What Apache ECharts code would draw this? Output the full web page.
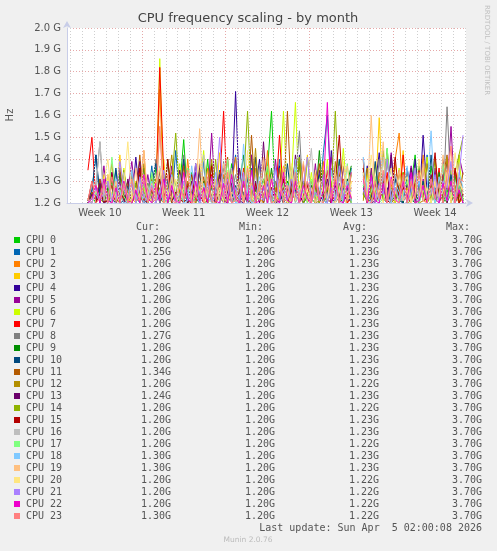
<!DOCTYPE html>
<html><head><meta charset="utf-8">
<script src="https://cdn.jsdelivr.net/npm/echarts@6/dist/echarts.min.js"></script>
<style>html,body{margin:0;padding:0;background:#f0f0f0}#c{width:497px;height:551px}</style>
</head><body><div id="c"></div>
<script>
const cpuNames = ['CPU 0','CPU 1','CPU 2','CPU 3','CPU 4','CPU 5','CPU 6','CPU 7','CPU 8','CPU 9','CPU 10','CPU 11','CPU 12','CPU 13','CPU 14','CPU 15','CPU 16','CPU 17','CPU 18','CPU 19','CPU 20','CPU 21','CPU 22','CPU 23'];
const cpuColors = ['#00cc00','#0066b3','#ff8000','#ffcc00','#330099','#990099','#ccff00','#ff0000','#808080','#008f00','#00487d','#b35a00','#b38f00','#6b006b','#8fb300','#b30000','#bebebe','#80ff80','#80c9ff','#ffc080','#ffe680','#aa80ff','#ee00cc','#ff8080'];
const weekLabels = ['Week 10','Week 11','Week 12','Week 13','Week 14'];
const weekLabelPos = [3.5,10.5,17.5,24.5,31.5];   // days since Mon Mar 2 00:00
const weekStarts = [7,14,21,28];
const xMin = 0.75, xMax = 34.083;                 // Mar 2 18:00 .. Apr 5 02:00
const sampleStart = 2.5, sampleStep = 1/3;        // 8-hour samples
const legendHeader = ['Cur:','Min:','Avg:','Max:'];
const curVals = ['1.20G','1.25G','1.20G','1.20G','1.20G','1.20G','1.20G','1.20G','1.27G','1.20G','1.20G','1.34G','1.20G','1.24G','1.20G','1.20G','1.20G','1.20G','1.30G','1.30G','1.20G','1.20G','1.20G','1.30G'];
const minVals = ['1.20G','1.20G','1.20G','1.20G','1.20G','1.20G','1.20G','1.20G','1.20G','1.20G','1.20G','1.20G','1.20G','1.20G','1.20G','1.20G','1.20G','1.20G','1.20G','1.20G','1.20G','1.20G','1.20G','1.20G'];
const avgVals = ['1.23G','1.23G','1.23G','1.23G','1.23G','1.22G','1.23G','1.23G','1.23G','1.23G','1.23G','1.23G','1.22G','1.23G','1.22G','1.23G','1.23G','1.22G','1.23G','1.23G','1.22G','1.22G','1.22G','1.22G'];
const maxVals = ['3.70G','3.70G','3.70G','3.70G','3.70G','3.70G','3.70G','3.70G','3.70G','3.70G','3.70G','3.70G','3.70G','3.70G','3.70G','3.70G','3.70G','3.70G','3.70G','3.70G','3.70G','3.70G','3.70G','3.70G'];

const cpu0 = [1.20,1.23,1.20,1.28,1.21,1.20,1.30,1.22,1.20,1.26, 1.21,1.33,1.20,1.24,1.20,1.29,1.22,1.36,1.20,1.25, 1.21,1.31,1.20,1.27,1.49,1.21,1.34,1.20,1.28,1.22, 1.40,1.20,1.26,1.21,1.32,1.20,1.38,1.23,1.20,1.29, 1.21,1.42,1.20,1.27,1.22,1.35,1.62,1.21,1.30,1.20, 1.25,1.37,1.20,1.28,1.21,1.41,1.22,1.20,1.33,1.24, 1.20,1.30,1.21,1.39,1.20,1.26,1.22,null,null,1.28, 1.21,1.36,1.20,1.31,1.22,1.45,1.20,1.27,1.21,1.34, 1.20,1.29,1.42,1.21,1.25,1.20,1.37,1.22,1.30,1.20, 1.26,1.21,1.33,1.20,1.24];
const cpu1 = [1.21,1.25,1.42,1.20,1.30,1.22,1.20,1.35,1.21,1.27, 1.20,1.32,1.23,1.20,1.28,1.21,1.37,1.20,1.25,1.22, 1.30,1.20,1.44,1.21,1.26,1.20,1.33,1.22,1.20,1.39, 1.21,1.27,1.20,1.35,1.22,1.20,1.30,1.42,1.21,1.24, 1.20,1.36,1.21,1.28,1.20,1.33,1.22,1.20,1.40,1.23, 1.20,1.29,1.21,1.38,1.20,1.25,1.22,1.34,1.20,1.43, 1.60,1.22,1.31,1.20,1.27,1.21,1.36,null,null,1.40, 1.21,1.29,1.20,1.34,1.22,1.20,1.41,1.21,1.26,1.20, 1.36,1.22,1.20,1.30,1.21,1.42,1.20,1.27,1.23,1.33, 1.20,1.28,1.21,1.25,1.22];
const cpu2 = [1.20,1.24,1.21,1.30,1.20,1.26,1.38,1.21,1.22,1.29, 1.20,1.33,1.21,1.25,1.44,1.20,1.28,1.21,1.72,1.25, 1.20,1.34,1.21,1.27,1.20,1.40,1.22,1.20,1.30,1.21, 1.36,1.20,1.26,1.22,1.33,1.20,1.28,1.41,1.21,1.23, 1.31,1.20,1.36,1.22,1.20,1.44,1.21,1.27,1.20,1.32, 1.22,1.20,1.29,1.37,1.21,1.25,1.20,1.30,1.22,1.39, 1.20,1.26,1.21,1.34,1.20,1.28,1.22,null,null,1.39, 1.21,1.31,1.20,1.34,1.23,1.20,1.27,1.40,1.52,1.21, 1.35,1.20,1.28,1.21,1.42,1.20,1.30,1.22,1.26,1.20, 1.35,1.21,1.24,1.20,1.22];
const cpu3 = [1.22,1.20,1.27,1.21,1.33,1.20,1.25,1.21,1.42,1.20, 1.30,1.22,1.20,1.36,1.21,1.26,1.20,1.31,1.22,1.40, 1.20,1.27,1.21,1.35,1.20,1.29,1.22,1.38,1.20,1.25, 1.21,1.31,1.20,1.43,1.22,1.20,1.30,1.21,1.36,1.20, 1.27,1.22,1.40,1.20,1.29,1.21,1.34,1.20,1.24,1.37, 1.20,1.26,1.21,1.30,1.20,1.42,1.22,1.28,1.20,1.34, 1.21,1.26,1.20,1.38,1.22,1.20,1.30,null,null,1.34, 1.20,1.27,1.22,1.59,1.21,1.32,1.20,1.38,1.25,1.44, 1.20,1.30,1.21,1.36,1.22,1.20,1.29,1.41,1.21,1.27, 1.20,1.33,1.21,1.24,1.20];
const cpu4 = [1.20,1.25,1.21,1.31,1.20,1.22,1.28,1.20,1.34,1.21, 1.24,1.20,1.41,1.22,1.30,1.20,1.26,1.21,1.36,1.20, 1.23,1.29,1.20,1.33,1.21,1.25,1.20,1.38,1.22,1.27, 1.20,1.30,1.21,1.24,1.20,1.35,1.22,1.71,1.21,1.20, 1.32,1.21,1.26,1.40,1.20,1.29,1.22,1.21,1.37,1.20, 1.25,1.30,1.21,1.42,1.20,1.23,1.28,1.20,1.35,1.21, 1.20,1.44,1.22,1.26,1.20,1.31,1.21,null,null,1.24, 1.37,1.20,1.28,1.43,1.21,1.27,1.20,1.33,1.22,1.20, 1.29,1.21,1.40,1.20,1.51,1.25,1.21,1.34,1.20,1.28, 1.39,1.21,1.23,1.30,1.20];
const cpu5 = [1.21,1.20,1.28,1.22,1.37,1.20,1.24,1.21,1.30,1.20, 1.26,1.39,1.21,1.23,1.20,1.33,1.22,1.28,1.20,1.25, 1.21,1.37,1.20,1.26,1.22,1.30,1.20,1.34,1.21,1.27, 1.20,1.52,1.22,1.31,1.21,1.20,1.36,1.24,1.20,1.29, 1.21,1.42,1.20,1.25,1.22,1.32,1.20,1.40,1.21,1.27, 1.20,1.35,1.22,1.24,1.20,1.30,1.21,1.38,1.20,1.26, 1.22,1.41,1.20,1.29,1.21,1.23,1.34,null,null,1.27, 1.21,1.36,1.20,1.24,1.30,1.21,1.43,1.20,1.28,1.22, 1.25,1.37,1.21,1.20,1.31,1.26,1.21,1.36,1.20,1.33, 1.26,1.55,1.21,1.42,1.33];
const cpu6 = [1.20,1.23,1.21,1.29,1.20,1.33,1.21,1.26,1.20,1.36, 1.22,1.20,1.30,1.21,1.27,1.20,1.24,1.21,1.86,1.25, 1.20,1.31,1.21,1.38,1.22,1.20,1.33,1.21,1.27,1.44, 1.20,1.22,1.30,1.21,1.25,1.20,1.35,1.22,1.28,1.20, 1.37,1.21,1.23,1.29,1.20,1.34,1.21,1.20,1.26,1.62, 1.22,1.30,1.66,1.20,1.28,1.21,1.34,1.20,1.25,1.22, 1.40,1.20,1.31,1.21,1.45,1.23,1.26,null,null,1.22, 1.33,1.20,1.38,1.21,1.29,1.22,1.24,1.20,1.36,1.21, 1.27,1.20,1.32,1.22,1.25,1.41,1.20,1.30,1.21,1.27, 1.20,1.35,1.22,1.42,1.21];
const cpu7 = [1.35,1.50,1.21,1.28,1.20,1.22,1.34,1.20,1.25,1.30, 1.21,1.20,1.27,1.35,1.22,1.20,1.31,1.23,1.82,1.33, 1.21,1.29,1.20,1.24,1.38,1.21,1.20,1.30,1.22,1.26, 1.20,1.33,1.21,1.27,1.62,1.20,1.32,1.22,1.20,1.36, 1.21,1.24,1.29,1.20,1.41,1.22,1.25,1.20,1.51,1.23, 1.20,1.30,1.27,1.21,1.38,1.20,1.24,1.32,1.21,1.22, 1.35,1.20,1.26,1.21,1.31,1.20,1.22,null,null,1.40, 1.21,1.25,1.20,1.28,1.22,1.34,1.20,1.27,1.21,1.42, 1.20,1.30,1.24,1.21,1.37,1.20,1.29,1.23,1.36,1.20, 1.33,1.21,1.36,1.26,1.21];
const cpu8 = [1.22,1.20,1.28,1.48,1.21,1.30,1.20,1.26,1.33,1.21, 1.20,1.35,1.22,1.24,1.20,1.29,1.21,1.40,1.20,1.27, 1.21,1.31,1.20,1.25,1.42,1.21,1.23,1.20,1.36,1.22, 1.30,1.20,1.27,1.21,1.39,1.20,1.24,1.33,1.21,1.25, 1.20,1.29,1.22,1.37,1.20,1.26,1.21,1.30,1.20,1.23, 1.28,1.21,1.31,1.53,1.20,1.25,1.22,1.34,1.20,1.27, 1.21,1.36,1.20,1.23,1.29,1.21,1.22,null,null,1.36, 1.20,1.30,1.21,1.40,1.22,1.26,1.20,1.33,1.21,1.28, 1.20,1.35,1.22,1.24,1.30,1.20,1.27,1.21,1.32,1.20, 1.64,1.27,1.22,1.32,1.25];
const cpu9 = [1.20,1.24,1.21,1.30,1.20,1.27,1.22,1.20,1.33,1.21, 1.25,1.20,1.29,1.23,1.36,1.20,1.26,1.22,1.31,1.20, 1.40,1.21,1.24,1.20,1.28,1.35,1.21,1.25,1.20,1.30, 1.22,1.38,1.20,1.27,1.21,1.33,1.20,1.24,1.29,1.42, 1.20,1.23,1.26,1.21,1.31,1.20,1.36,1.22,1.25,1.20, 1.30,1.21,1.27,1.39,1.20,1.23,1.28,1.21,1.44,1.20, 1.26,1.21,1.32,1.20,1.22,1.29,1.37,null,null,1.24, 1.21,1.33,1.20,1.26,1.22,1.41,1.21,1.23,1.28,1.20, 1.31,1.22,1.20,1.37,1.21,1.25,1.29,1.20,1.34,1.21, 1.21,1.29,1.20,1.24,1.22];
const cpu10 = [1.21,1.26,1.42,1.24,1.20,1.30,1.22,1.36,1.20,1.21, 1.28,1.20,1.25,1.33,1.21,1.20,1.29,1.38,1.21,1.23, 1.31,1.20,1.25,1.22,1.40,1.20,1.26,1.21,1.34,1.20, 1.27,1.23,1.20,1.30,1.36,1.21,1.22,1.28,1.20,1.24, 1.31,1.20,1.41,1.21,1.27,1.20,1.33,1.22,1.25,1.20, 1.38,1.21,1.26,1.20,1.30,1.22,1.21,1.35,1.20,1.24, 1.29,1.20,1.22,1.40,1.21,1.27,1.20,null,null,1.33, 1.20,1.22,1.39,1.21,1.28,1.20,1.24,1.31,1.21,1.20, 1.36,1.22,1.25,1.20,1.30,1.21,1.42,1.20,1.27,1.24, 1.21,1.33,1.20,1.29,1.21];
const cpu11 = [1.20,1.25,1.21,1.31,1.20,1.22,1.28,1.20,1.36,1.21, 1.30,1.20,1.24,1.42,1.21,1.27,1.20,1.22,1.35,1.21, 1.25,1.20,1.30,1.21,1.37,1.20,1.26,1.23,1.20,1.32, 1.21,1.28,1.20,1.34,1.22,1.41,1.20,1.24,1.21,1.29, 1.20,1.51,1.21,1.27,1.20,1.31,1.22,1.23,1.36,1.20, 1.62,1.21,1.25,1.20,1.30,1.22,1.21,1.26,1.38,1.20, 1.27,1.21,1.23,1.33,1.20,1.29,1.22,null,null,1.36, 1.20,1.24,1.31,1.21,1.27,1.43,1.20,1.22,1.35,1.21, 1.25,1.30,1.20,1.21,1.38,1.22,1.28,1.20,1.24,1.32, 1.42,1.21,1.26,1.22,1.34];
const cpu12 = [1.21,1.20,1.27,1.22,1.20,1.30,1.21,1.25,1.20,1.34, 1.23,1.20,1.29,1.21,1.38,1.20,1.26,1.31,1.22,1.20, 1.27,1.42,1.21,1.24,1.20,1.30,1.22,1.20,1.36,1.21, 1.25,1.40,1.20,1.23,1.28,1.21,1.33,1.20,1.22,1.29, 1.25,1.21,1.45,1.20,1.31,1.22,1.27,1.20,1.23,1.35, 1.20,1.22,1.28,1.40,1.21,1.24,1.30,1.20,1.21,1.33, 1.27,1.20,1.39,1.23,1.21,1.29,1.20,null,null,1.21, 1.36,1.20,1.25,1.30,1.21,1.42,1.20,1.22,1.27,1.34, 1.21,1.24,1.29,1.20,1.21,1.38,1.26,1.20,1.32,1.23, 1.41,1.20,1.28,1.21,1.24];
const cpu13 = [1.20,1.24,1.21,1.29,1.20,1.21,1.34,1.22,1.26,1.20, 1.31,1.21,1.25,1.39,1.20,1.22,1.28,1.21,1.23,1.32, 1.20,1.26,1.21,1.35,1.22,1.20,1.30,1.21,1.38,1.20, 1.27,1.22,1.21,1.33,1.20,1.25,1.29,1.21,1.36,1.20, 1.24,1.22,1.30,1.20,1.48,1.21,1.27,1.20,1.21,1.30, 1.26,1.20,1.42,1.21,1.22,1.29,1.20,1.35,1.24,1.21, 1.31,1.20,1.28,1.22,1.37,1.21,1.22,null,null,1.34, 1.25,1.20,1.21,1.30,1.27,1.20,1.42,1.22,1.23,1.29, 1.20,1.36,1.21,1.22,1.28,1.20,1.33,1.25,1.21,1.40, 1.20,1.26,1.21,1.31,1.23];
const cpu14 = [1.22,1.20,1.26,1.21,1.31,1.20,1.24,1.28,1.20,1.35, 1.21,1.23,1.29,1.20,1.25,1.22,1.33,1.20,1.27,1.21, 1.20,1.30,1.52,1.24,1.20,1.36,1.21,1.22,1.28,1.20, 1.25,1.21,1.40,1.20,1.23,1.33,1.21,1.26,1.20,1.29, 1.62,1.22,1.20,1.29,1.21,1.37,1.20,1.25,1.22,1.31, 1.20,1.21,1.27,1.41,1.20,1.24,1.22,1.30,1.20,1.35, 1.21,1.26,1.62,1.20,1.28,1.22,1.33,null,null,1.25, 1.20,1.30,1.22,1.21,1.44,1.20,1.27,1.24,1.21,1.31, 1.20,1.21,1.36,1.22,1.28,1.20,1.23,1.40,1.21,1.26, 1.30,1.22,1.34,1.42,1.50];
const cpu15 = [1.21,1.30,1.20,1.24,1.21,1.20,1.33,1.22,1.27,1.20, 1.22,1.29,1.21,1.36,1.20,1.23,1.26,1.21,1.31,1.20, 1.40,1.21,1.25,1.22,1.20,1.28,1.33,1.21,1.24,1.20, 1.21,1.37,1.20,1.26,1.22,1.30,1.20,1.22,1.25,1.34, 1.21,1.20,1.29,1.23,1.38,1.20,1.27,1.22,1.21,1.31, 1.20,1.25,1.40,1.21,1.23,1.28,1.20,1.34,1.21,1.26, 1.22,1.20,1.30,1.51,1.21,1.24,1.27,null,null,1.36, 1.22,1.29,1.20,1.25,1.33,1.21,1.20,1.41,1.22,1.27, 1.23,1.20,1.30,1.35,1.21,1.22,1.28,1.43,1.20,1.25, 1.31,1.21,1.36,1.20,1.24];
const cpu16 = [1.22,1.20,1.27,1.48,1.21,1.30,1.20,1.25,1.23,1.34, 1.21,1.26,1.20,1.31,1.22,1.28,1.20,1.24,1.37,1.21, 1.22,1.29,1.20,1.33,1.21,1.25,1.20,1.30,1.21,1.42, 1.23,1.20,1.26,1.21,1.31,1.20,1.36,1.22,1.24,1.21, 1.28,1.20,1.33,1.21,1.40,1.22,1.25,1.20,1.29,1.21, 1.22,1.35,1.20,1.26,1.21,1.30,1.45,1.20,1.23,1.27, 1.37,1.21,1.20,1.32,1.22,1.25,1.28,null,null,1.41, 1.23,1.30,1.20,1.26,1.41,1.22,1.20,1.33,1.28,1.21, 1.24,1.31,1.20,1.21,1.36,1.22,1.27,1.20,1.23,1.29, 1.34,1.22,1.20,1.30,1.26];
const cpu17 = [1.21,1.20,1.25,1.22,1.30,1.20,1.41,1.21,1.26,1.23, 1.20,1.31,1.21,1.24,1.28,1.20,1.34,1.21,1.53,1.27, 1.20,1.22,1.30,1.21,1.25,1.36,1.20,1.23,1.29,1.21, 1.20,1.32,1.22,1.26,1.21,1.40,1.20,1.22,1.28,1.21, 1.33,1.20,1.24,1.21,1.30,1.37,1.20,1.25,1.22,1.29, 1.20,1.22,1.35,1.21,1.26,1.20,1.31,1.23,1.21,1.28, 1.20,1.33,1.22,1.27,1.21,1.38,1.20,null,null,1.29, 1.21,1.25,1.32,1.20,1.22,1.45,1.21,1.27,1.20,1.24, 1.30,1.21,1.35,1.20,1.26,1.22,1.31,1.20,1.23,1.38, 1.21,1.25,1.20,1.29,1.21];
const cpu18 = [1.20,1.22,1.24,1.21,1.28,1.20,1.22,1.31,1.25,1.20, 1.21,1.35,1.22,1.27,1.20,1.23,1.30,1.21,1.26,1.20, 1.22,1.33,1.21,1.28,1.20,1.21,1.37,1.24,1.20,1.29, 1.22,1.21,1.34,1.20,1.26,1.23,1.31,1.20,1.21,1.47, 1.25,1.20,1.21,1.32,1.27,1.20,1.24,1.36,1.21,1.22, 1.29,1.20,1.40,1.21,1.25,1.23,1.20,1.31,1.27,1.21, 1.20,1.35,1.22,1.26,1.20,1.30,1.21,null,null,1.41, 1.24,1.20,1.27,1.21,1.33,1.22,1.20,1.29,1.25,1.21, 1.37,1.20,1.23,1.30,1.21,1.26,1.53,1.20,1.32,1.24, 1.21,1.28,1.22,1.34,1.27];
const cpu19 = [1.22,1.20,1.28,1.21,1.25,1.33,1.20,1.30,1.21,1.27, 1.24,1.20,1.36,1.21,1.44,1.22,1.29,1.20,1.55,1.26, 1.21,1.32,1.20,1.28,1.22,1.35,1.21,1.24,1.54,1.20, 1.27,1.22,1.31,1.21,1.38,1.20,1.25,1.23,1.20,1.34, 1.22,1.29,1.21,1.26,1.41,1.20,1.30,1.22,1.21,1.36, 1.24,1.20,1.28,1.22,1.39,1.21,1.27,1.20,1.31,1.25, 1.21,1.23,1.34,1.20,1.29,1.37,1.22,null,null,1.31, 1.22,1.60,1.21,1.27,1.48,1.20,1.30,1.24,1.35,1.21, 1.26,1.20,1.33,1.22,1.38,1.21,1.25,1.29,1.20,1.42, 1.27,1.46,1.21,1.31,1.24];
const cpu20 = [1.21,1.20,1.26,1.22,1.30,1.40,1.21,1.24,1.20,1.28, 1.48,1.21,1.27,1.20,1.33,1.23,1.21,1.29,1.36,1.20, 1.25,1.22,1.31,1.20,1.28,1.34,1.21,1.26,1.40,1.20, 1.23,1.30,1.21,1.27,1.20,1.35,1.22,1.24,1.31,1.20, 1.44,1.21,1.25,1.22,1.29,1.20,1.33,1.21,1.27,1.24, 1.20,1.38,1.21,1.30,1.22,1.26,1.20,1.35,1.21,1.28, 1.22,1.32,1.20,1.25,1.39,1.21,1.30,null,null,1.34, 1.21,1.42,1.22,1.26,1.20,1.29,1.36,1.21,1.23,1.28, 1.32,1.20,1.24,1.40,1.21,1.27,1.20,1.31,1.22,1.25, 1.34,1.20,1.43,1.29,1.26];
const cpu21 = [1.21,1.20,1.27,1.22,1.24,1.30,1.21,1.20,1.39,1.26, 1.22,1.29,1.20,1.32,1.23,1.21,1.28,1.20,1.25,1.35, 1.21,1.27,1.20,1.24,1.30,1.21,1.26,1.38,1.20,1.23, 1.29,1.21,1.25,1.50,1.22,1.31,1.20,1.27,1.21,1.34, 1.20,1.28,1.23,1.25,1.21,1.30,1.20,1.36,1.22,1.26, 1.21,1.31,1.24,1.20,1.29,1.41,1.21,1.25,1.22,1.33, 1.20,1.27,1.21,1.37,1.22,1.28,1.25,null,null,1.26, 1.21,1.32,1.20,1.29,1.24,1.40,1.21,1.27,1.22,1.31, 1.20,1.25,1.36,1.21,1.28,1.22,1.24,1.33,1.20,1.30, 1.27,1.39,1.21,1.32,1.51];
const cpu22 = [1.20,1.22,1.28,1.20,1.31,1.21,1.20,1.27,1.20,1.30, 1.21,1.20,1.26,1.20,1.33,1.22,1.20,1.29,1.21,1.31, 1.20,1.28,1.21,1.20,1.34,1.22,1.20,1.30,1.21,1.27, 1.20,1.32,1.21,1.20,1.29,1.20,1.33,1.22,1.20,1.30, 1.21,1.35,1.20,1.21,1.28,1.20,1.31,1.22,1.20,1.34, 1.21,1.20,1.30,1.20,1.28,1.22,1.20,1.31,1.21,1.25, 1.66,1.20,1.30,1.21,1.20,1.28,1.22,null,null,1.31, 1.20,1.33,1.21,1.20,1.29,1.20,1.32,1.22,1.20,1.30, 1.21,1.34,1.20,1.21,1.28,1.20,1.31,1.22,1.20,1.29, 1.21,1.30,1.20,1.26,1.20];
const cpu23 = [1.21,1.30,1.20,1.22,1.28,1.20,1.32,1.21,1.20,1.29, 1.20,1.31,1.21,1.22,1.30,1.20,1.27,1.21,1.55,1.20, 1.33,1.21,1.20,1.29,1.22,1.35,1.20,1.21,1.30,1.20, 1.32,1.21,1.20,1.31,1.22,1.34,1.20,1.21,1.29,1.20, 1.36,1.21,1.20,1.30,1.22,1.33,1.20,1.21,1.31,1.20, 1.28,1.21,1.34,1.20,1.22,1.30,1.20,1.33,1.21,1.20, 1.29,1.22,1.32,1.20,1.30,1.21,1.34,null,null,1.32, 1.21,1.20,1.30,1.22,1.35,1.20,1.31,1.21,1.20,1.33, 1.20,1.30,1.22,1.34,1.21,1.20,1.31,1.22,1.29,1.20, 1.33,1.46,1.20,1.31,1.30];

const cpuData = [cpu0,cpu1,cpu2,cpu3,cpu4,cpu5,cpu6,cpu7,cpu8,cpu9,cpu10,cpu11,cpu12,cpu13,cpu14,cpu15,cpu16,cpu17,cpu18,cpu19,cpu20,cpu21,cpu22,cpu23];

const chart = echarts.init(document.getElementById('c'), null, {renderer:'canvas'});

const dayLines = [];
for (let d = 1; d <= 34; d++) if (weekStarts.indexOf(d) < 0) dayLines.push({xAxis: d});
const weekLines = weekStarts.map(d => ({xAxis: d}));

const series = [{
  type:'line', data:[], z:1, silent:true, animation:false,
  markLine:{silent:true, symbol:'none', animation:false, label:{show:false},
    lineStyle:{color:'#cfcfcf', type:[1,2], width:1}, data: dayLines}
},{
  type:'line', data:[], z:1, silent:true, animation:false,
  markLine:{silent:true, symbol:'none', animation:false, label:{show:false},
    lineStyle:{color:'#e6a8a8', type:[1,2], width:1}, data: weekLines}
}];
cpuData.forEach((vals, i) => {
  series.push({
    name: cpuNames[i], type:'line', z:2, silent:true, animation:false,
    showSymbol:false, symbol:'none', connectNulls:false,
    lineStyle:{width:1, color:cpuColors[i]}, itemStyle:{color:cpuColors[i]},
    data: vals.map((v,k) => [sampleStart + k*sampleStep, v])
  });
});

const graphics = [];
const txt = (x, y, text, opts) => graphics.push(Object.assign({
  type:'text', x:x, y:y, silent:true,
  style:Object.assign({text:text, fill:'#555', font:'10px "DejaVu Sans Mono"', align:'left', verticalAlign:'middle', textAlign:'left', textVerticalAlign:'middle'}, opts && opts.style)
}, opts && opts.el));

txt(248, 19, 'CPU frequency scaling - by month', {style:{font:'13px "DejaVu Sans"', fill:'#444', align:'center', textAlign:'center'}});
txt(10, 115, 'Hz', {style:{font:'10px "DejaVu Sans"', fill:'#555', align:'center', textAlign:'center'}, el:{rotation:Math.PI/2}});
txt(487, 5, 'RRDTOOL / TOBI OETIKER', {style:{font:'7px "DejaVu Sans"', fill:'#c0c0c0', align:'left', textAlign:'left'}, el:{rotation:-Math.PI/2}});

const colRight = [171, 275, 379, 482];
const headRight = [160, 263, 367, 470];
legendHeader.forEach((h, j) => txt(headRight[j], 227, h, {style:{align:'right', textAlign:'right'}}));
const cols = [curVals, minVals, avgVals, maxVals];
cpuNames.forEach((n, i) => {
  const y = 240 + 12*i;
  graphics.push({type:'rect', x:14, y:y-3, shape:{x:0,y:0,width:6,height:6}, style:{fill:cpuColors[i]}, silent:true});
  txt(26, y, n);
  cols.forEach((c, j) => txt(colRight[j], y, c[i], {style:{align:'right', textAlign:'right'}}));
});
txt(482, 528, 'Last update: Sun Apr  5 02:00:08 2026', {style:{align:'right', textAlign:'right'}});
txt(248, 540, 'Munin 2.0.76', {style:{font:'7.5px "DejaVu Sans"', fill:'#bbbbbb', align:'center', textAlign:'center'}});

chart.setOption({
  backgroundColor:'#f0f0f0',
  animation:false,
  grid:{left:67, top:28, width:399, height:175, backgroundColor:'#ffffff', show:true, borderWidth:0},
  xAxis:{
    type:'value', min:xMin, max:xMax,
    axisLine:{show:true, lineStyle:{color:'#c8cde8', width:1}, symbol:['none','arrow'], symbolSize:[6,7], symbolOffset:[0,7]},
    axisTick:{show:false},
    splitLine:{show:false},
    axisLabel:{customValues:weekLabelPos, formatter:v => weekLabels[weekLabelPos.indexOf(v)], color:'#555', fontFamily:'DejaVu Sans', fontSize:10, margin:5, showMinLabel:true, showMaxLabel:true}
  },
  yAxis:{
    type:'value', min:1.2, max:2.0, interval:0.1,
    axisLine:{show:true, lineStyle:{color:'#c8cde8', width:1}, symbol:['none','arrow'], symbolSize:[6,7], symbolOffset:[0,7]},
    axisTick:{show:false},
    splitLine:{show:true, lineStyle:{color:'#e6a8a8', type:[1,2], width:1}},
    axisLabel:{formatter:v => v.toFixed(1) + ' G', color:'#555', fontFamily:'DejaVu Sans', fontSize:10, margin:6}
  },
  series: series,
  graphic: graphics
});
</script></body></html>
